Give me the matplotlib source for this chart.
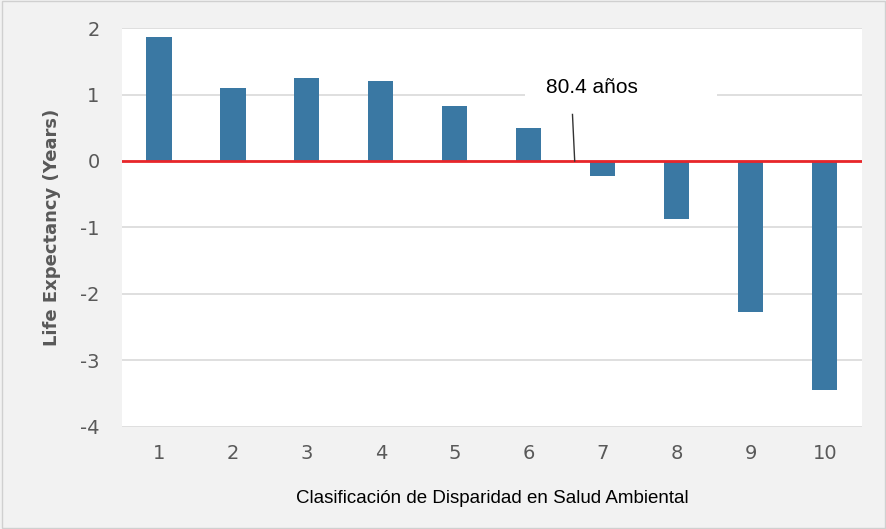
import matplotlib
matplotlib.use("Agg")
import matplotlib.pyplot as plt

categories = [1, 2, 3, 4, 5, 6, 7, 8, 9, 10]
values = [1.86, 1.10, 1.25, 1.20, 0.83, 0.50, -0.22, -0.88, -2.27, -3.45]
yticks = [2, 1, 0, -1, -2, -3, -4]
annotation = "80.4 años"

fig = plt.figure(figsize=(8.87, 5.29), dpi=100, facecolor="#f2f2f2")
ax = fig.add_axes([0.1375, 0.193, 0.834, 0.754])
ax.set_facecolor("white")

ax.bar(categories, values, width=0.34, color="#3a78a3", zorder=3)
ax.set_xlim(0.5, 10.5)
ax.set_ylim(-4, 2)
ax.set_yticks(yticks)
ax.set_yticklabels([str(t) for t in yticks])
ax.set_xticks(categories)
ax.set_xticklabels([str(c) for c in categories])
ax.grid(axis="y", color="#d9d9d9", linewidth=1.2, zorder=0)
for s in ax.spines.values():
    s.set_visible(False)
ax.tick_params(length=0, labelsize=14, labelcolor="#595959", pad=12)
ax.tick_params(axis="y", pad=16)

ax.axhline(0, color="#e8262a", linewidth=2, zorder=4)

# white label box covering the gridline
ax.add_patch(plt.Rectangle((5.95, 0.85), 2.6, 0.55, fc="white", ec="none", zorder=2))
ax.text(6.85, 1.11, annotation, ha="center", va="center", fontsize=15,
        family="Liberation Sans", color="black", zorder=5)
ax.plot([6.59, 6.62], [0.7, 0.0], color="#333333", lw=1, zorder=5)

ax.set_ylabel("Life Expectancy (Years)", fontsize=13, fontweight="bold",
              color="#595959", labelpad=14)
ax.set_xlabel("Clasificación de Disparidad en Salud Ambiental", fontsize=13.5,
              family="Liberation Sans", color="black", labelpad=20)

fig.patches.append(plt.Rectangle((0.002, 0.002), 0.996, 0.996, transform=fig.transFigure,
                                 fill=False, ec="#d0d0d0", lw=1))
fig.savefig("out.png", dpi=100, facecolor=fig.get_facecolor())
